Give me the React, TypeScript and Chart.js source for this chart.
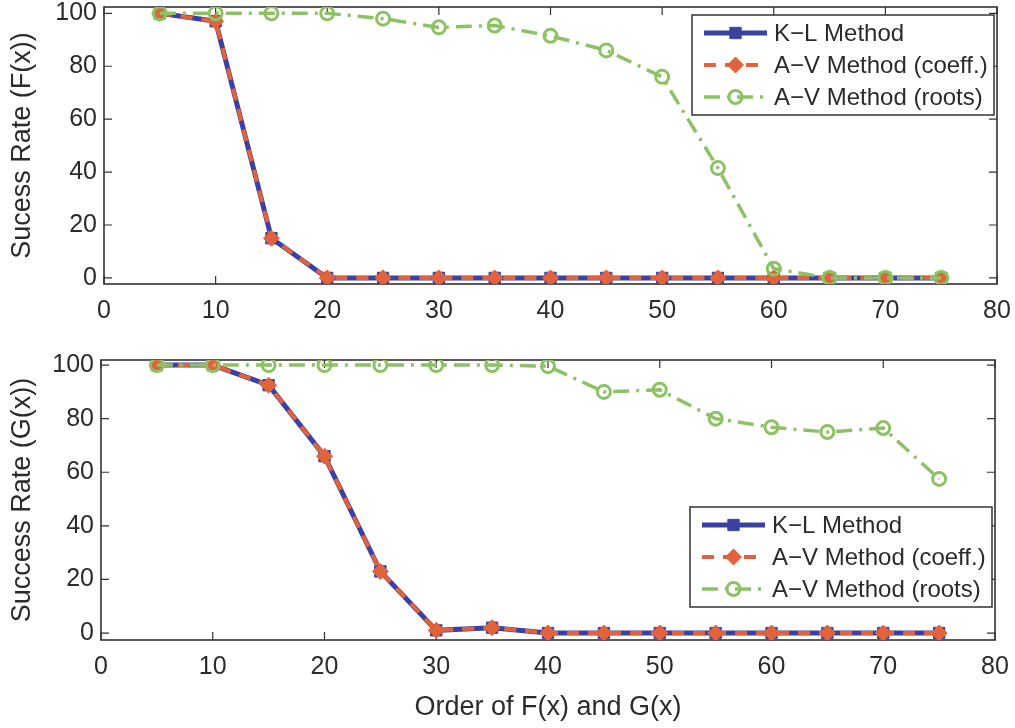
import React, { useEffect, useRef } from 'react';
import { Chart, registerables } from 'chart.js';

Chart.register(...registerables);

// ---------- data ----------
const orders = [5, 10, 15, 20, 25, 30, 35, 40, 45, 50, 55, 60, 65, 70, 75];
const klF = [100, 97, 15, 0, 0, 0, 0, 0, 0, 0, 0, 0, 0, 0, 0];
const avCoeffF = [100, 97, 15, 0, 0, 0, 0, 0, 0, 0, 0, 0, 0, 0, 0];
const avRootsF = [100, 100, 100, 100, 98, 94.7, 95.4, 91.5, 86, 76, 41.5, 3.5, 0, 0, 0];
const klG = [100, 100, 92.5, 66, 23, 1, 2, 0, 0, 0, 0, 0, 0, 0, 0];
const avCoeffG = [100, 100, 92.5, 66, 23, 1, 2, 0, 0, 0, 0, 0, 0, 0, 0];
const avRootsG = [100, 100, 100, 100, 100, 100, 100, 99.6, 90, 90.8, 80, 76.8, 75, 76.5, 57.5];
const xTicks = [0, 10, 20, 30, 40, 50, 60, 70, 80];
const yTicks = [0, 20, 40, 60, 80, 100];
const seriesLabels = ['K\u2212L Method', 'A\u2212V Method (coeff.)', 'A\u2212V Method (roots)'];
const yTitleF = 'Sucess Rate (F(x))';
const yTitleG = 'Success Rate (G(x))';
const xTitle = 'Order of F(x) and G(x)';

// ---------- styles ----------
const FONT = '"Liberation Sans", Arial, Helvetica, sans-serif';
const TEXT = '#2b2b2b';
const BLUE = '#3b41a2';
const RED = '#e2623c';
const GREEN = '#8cc264';

const framePlugin = {
  id: 'matlabFrame',
  beforeDatasetsDraw(chart: any) {
    const { ctx, chartArea: a, scales } = chart;
    ctx.save();
    ctx.strokeStyle = '#333';
    ctx.lineWidth = 1.6;
    ctx.strokeRect(a.left, a.top, a.right - a.left, a.bottom - a.top);
    ctx.lineWidth = 1.2;
    ctx.beginPath();
    xTicks.forEach((v) => {
      const px = scales.x.getPixelForValue(v);
      ctx.moveTo(px, a.bottom);
      ctx.lineTo(px, a.bottom - 8);
      ctx.moveTo(px, a.top);
      ctx.lineTo(px, a.top + 8);
    });
    yTicks.forEach((v) => {
      const py = scales.y.getPixelForValue(v);
      ctx.moveTo(a.left, py);
      ctx.lineTo(a.left + 8, py);
      ctx.moveTo(a.right, py);
      ctx.lineTo(a.right - 8, py);
    });
    ctx.stroke();
    ctx.restore();
  },
};

function drawMarker(ctx: CanvasRenderingContext2D, ds: any, x: number, y: number) {
  const r = ds.pointRadius;
  ctx.save();
  ctx.setLineDash([]);
  ctx.lineWidth = ds.pointBorderWidth;
  ctx.strokeStyle = ds.pointBorderColor;
  ctx.fillStyle = ds.pointBackgroundColor;
  ctx.beginPath();
  if (ds.pointStyle === 'rect') {
    const s = Math.SQRT1_2 * r;
    ctx.rect(x - s, y - s, 2 * s, 2 * s);
  } else if (ds.pointStyle === 'rectRot') {
    ctx.moveTo(x, y - r);
    ctx.lineTo(x + r, y);
    ctx.lineTo(x, y + r);
    ctx.lineTo(x - r, y);
    ctx.closePath();
  } else {
    ctx.arc(x, y, r, 0, Math.PI * 2);
  }
  ctx.fill();
  ctx.stroke();
  ctx.restore();
}

const legendPlugin = {
  id: 'boxLegend',
  afterDatasetsDraw(chart: any, _args: any, opts: any) {
    const { ctx, chartArea: a } = chart;
    const w = 302;
    const h = 100;
    const right = a.right - 3;
    const left = right - w;
    const top = opts.corner === 'ne' ? a.top + 8 : a.bottom - 33 - h;
    ctx.save();
    ctx.fillStyle = '#ffffff';
    ctx.fillRect(left, top, w, h);
    ctx.strokeStyle = '#333';
    ctx.lineWidth = 1.5;
    ctx.strokeRect(left, top, w, h);
    chart.data.datasets.forEach((ds: any, i: number) => {
      const cy = top + 18 + i * 32;
      const x0 = left + 12;
      const x1 = left + 75;
      ctx.save();
      ctx.strokeStyle = ds.borderColor;
      ctx.lineWidth = ds.borderWidth;
      ctx.setLineDash(ds.borderDash || []);
      ctx.beginPath();
      ctx.moveTo(x0, cy);
      ctx.lineTo(x1, cy);
      ctx.stroke();
      ctx.restore();
      drawMarker(ctx, ds, (x0 + x1) / 2, cy);
      ctx.fillStyle = TEXT;
      ctx.font = `24px ${FONT}`;
      ctx.textAlign = 'left';
      ctx.textBaseline = 'middle';
      ctx.fillText(ds.label, left + 82, cy + 1);
    });
    ctx.restore();
  },
};

function pts(vals: number[]) {
  return orders.map((o, i) => ({ x: o, y: vals[i] }));
}

type Params = {
  kl: number[];
  coeff: number[];
  roots: number[];
  yTitle: string;
  showXTitle: boolean;
  padTop: number;
  padRight: number;
  yWidth: number;
  xHeight: number;
  yMin: number;
  yMax: number;
  corner: 'ne' | 'se';
};

function makeConfig(p: Params): any {
  return {
    type: 'line',
    data: {
      datasets: [
        {
          label: seriesLabels[0],
          data: pts(p.kl),
          borderColor: BLUE,
          borderWidth: 5,
          pointStyle: 'rect',
          pointRadius: 8,
          pointBackgroundColor: BLUE,
          pointBorderColor: BLUE,
          pointBorderWidth: 1,
          tension: 0,
          order: 3,
        },
        {
          label: seriesLabels[1],
          data: pts(p.coeff),
          borderColor: RED,
          borderWidth: 4,
          borderDash: [12, 9],
          pointStyle: 'rectRot',
          pointRadius: 8,
          pointBackgroundColor: RED,
          pointBorderColor: RED,
          pointBorderWidth: 1,
          tension: 0,
          order: 2,
        },
        {
          label: seriesLabels[2],
          data: pts(p.roots),
          borderColor: GREEN,
          borderWidth: 3.5,
          borderDash: [16, 7, 3, 7],
          pointStyle: 'circle',
          pointRadius: 6.5,
          pointBackgroundColor: 'rgba(255,255,255,0)',
          pointBorderColor: GREEN,
          pointBorderWidth: 3,
          tension: 0,
          order: 1,
        },
      ],
    },
    options: {
      animation: false,
      responsive: false,
      devicePixelRatio: 1,
      events: [],
      layout: {
        autoPadding: false,
        padding: { left: 0, top: p.padTop, right: p.padRight, bottom: 0 },
      },
      plugins: {
        legend: { display: false },
        tooltip: { enabled: false },
        boxLegend: { corner: p.corner },
      },
      scales: {
        x: {
          type: 'linear',
          min: 0,
          max: 80,
          grid: { display: false, drawTicks: false },
          border: { display: false },
          ticks: {
            color: TEXT,
            font: { family: FONT, size: 25 },
            padding: 12,
            maxRotation: 0,
            autoSkip: false,
          },
          afterBuildTicks: (s: any) => {
            s.ticks = xTicks.map((v) => ({ value: v }));
          },
          afterFit: (s: any) => {
            s.height = p.xHeight;
            s.paddingLeft = 0;
            s.paddingRight = 0;
          },
          title: {
            display: p.showXTitle,
            text: xTitle,
            color: TEXT,
            font: { family: FONT, size: 27 },
            padding: { top: 0, bottom: 4 },
          },
        },
        y: {
          type: 'linear',
          min: p.yMin,
          max: p.yMax,
          grid: { display: false, drawTicks: false },
          border: { display: false },
          ticks: {
            color: TEXT,
            font: { family: FONT, size: 25 },
            padding: 7,
            includeBounds: false,
          },
          afterBuildTicks: (s: any) => {
            s.ticks = yTicks.map((v) => ({ value: v }));
          },
          afterFit: (s: any) => {
            s.width = p.yWidth;
            s.paddingTop = 0;
            s.paddingBottom = 0;
          },
          title: {
            display: true,
            text: p.yTitle,
            color: TEXT,
            font: { family: FONT, size: 27 },
            padding: { top: 6, bottom: 0 },
          },
        },
      },
    },
    plugins: [framePlugin, legendPlugin],
  };
}

function Panel(props: { params: Params; top: number; height: number }) {
  const ref = useRef<HTMLCanvasElement | null>(null);
  useEffect(() => {
    if (!ref.current) return;
    const chart = new Chart(ref.current, makeConfig(props.params));
    return () => chart.destroy();
  }, []);
  return (
    <div style={{ position: 'absolute', left: 0, top: props.top, width: 1015, height: props.height }}>
      <canvas ref={ref} width={1015} height={props.height} style={{ display: 'block', width: 1015, height: props.height }} />
    </div>
  );
}

export default function App() {
  const topParams: Params = {
    kl: klF,
    coeff: avCoeffF,
    roots: avRootsF,
    yTitle: yTitleF,
    showXTitle: false,
    padTop: 7,
    padRight: 18,
    yWidth: 104,
    xHeight: 345 - 284,
    yMin: -2.3,
    yMax: 102.4,
    corner: 'ne',
  };
  const bottomParams: Params = {
    kl: klG,
    coeff: avCoeffG,
    roots: avRootsG,
    yTitle: yTitleG,
    showXTitle: true,
    padTop: 15,
    padRight: 20,
    yWidth: 101,
    xHeight: 383 - 295,
    yMin: -2.6,
    yMax: 101.9,
    corner: 'se',
  };
  return (
    <div style={{ position: 'absolute', left: 0, top: 0, width: 1015, height: 728, background: '#fff' }}>
      <Panel params={topParams} top={0} height={345} />
      <Panel params={bottomParams} top={345} height={383} />
    </div>
  );
}
